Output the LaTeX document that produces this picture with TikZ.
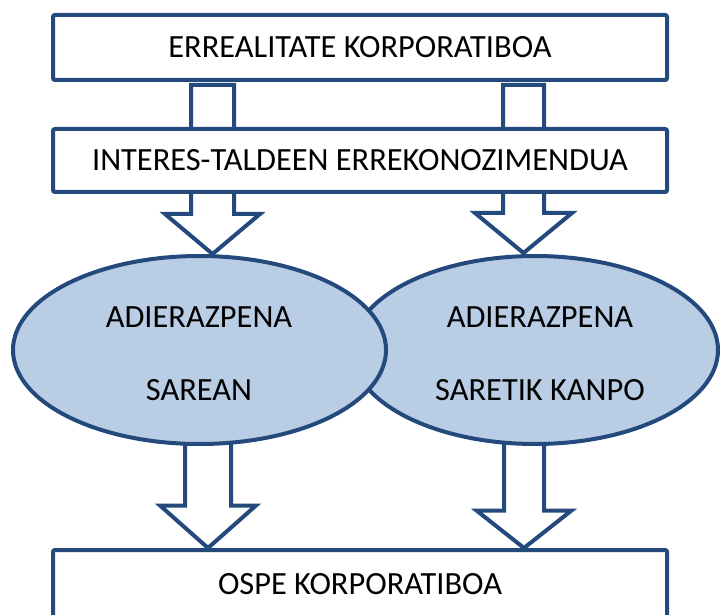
\documentclass[tikz,border=0pt]{standalone}
\usepackage{fontspec}
\setmainfont{Carlito}
\usetikzlibrary{shapes.geometric,backgrounds,calc}
\definecolor{navy}{HTML}{244A7D}
\definecolor{lightfill}{HTML}{B9CDE5}
\tikzset{
  lw/.style={line width=4pt},
  box/.style={draw=navy, lw, fill=white, rounded corners=2pt, minimum width=614pt,
    inner sep=0pt, outer sep=0pt, font=\fontsize{32.4}{38}\selectfont},
  oval/.style={ellipse, draw=navy, lw, fill=lightfill, inner sep=0pt, outer sep=0pt,
    minimum height=188pt},
  ovaltext/.style={align=center, inner sep=0pt, font=\fontsize{32.4}{73}\selectfont},
  blockarr/.style={draw=navy, lw, fill=white, line join=miter},
}
% #1 start (its y is used), #2 tip, #3 shaft half width, #4 head half width, #5 head length
\newcommand\blockarrow[5]{%
  \path[blockarr] let \p1=(#1), \p2=(#2) in
    (\x2-#3pt,\y1) -- (\x2+#3pt,\y1) -- (\x2+#3pt,\y2+#5pt) -- (\x2+#4pt,\y2+#5pt)
    -- (\x2,\y2) -- (\x2-#4pt,\y2+#5pt) -- (\x2-#3pt,\y2+#5pt) -- cycle;}
\begin{document}
\begin{tikzpicture}[x=1pt,y=-1pt]
\useasboundingbox (0,0) rectangle (721,615);
\node[box, minimum height=65pt] (top) at (360,47.5) {ERREALITATE KORPORATIBOA};
\node[box, minimum height=63pt] (mid) at (360,160.5) {INTERES-TALDEEN ERREKONOZIMENDUA};
\node[box, minimum height=68pt] (bot) at (360,584) {OSPE KORPORATIBOA};
\node[oval, minimum width=366pt] (eR) at (535,350) {};
\node[oval, minimum width=373pt] (eL) at (199.5,350) {};
\node[ovaltext] (eLt) at (199,353.5) {ADIERAZPENA\\SAREAN};
\node[ovaltext] (eRt) at (540,353.5) {ADIERAZPENA\\SARETIK KANPO};
\coordinate (t2L) at (212.5,254);
\coordinate (t2R) at (523.5,253);
\coordinate (t3L) at (208,548);
\coordinate (t3R) at (524,548);
\begin{scope}[on background layer]
  \blockarrow{[yshift=-5pt]top.south}{t2L |- mid.center}{21.5}{40}{25}
  \blockarrow{[yshift=-5pt]top.south}{t2R |- mid.center}{20.5}{40}{25}
  \blockarrow{mid.center}{t2L}{21.5}{47.5}{40}
  \blockarrow{mid.center}{t2R}{20.5}{48.5}{40}
  \blockarrow{eL.center}{t3L}{23}{48}{42.5}
  \blockarrow{eR.center}{t3R}{20}{47.5}{37.5}
\end{scope}
\end{tikzpicture}
\end{document}
